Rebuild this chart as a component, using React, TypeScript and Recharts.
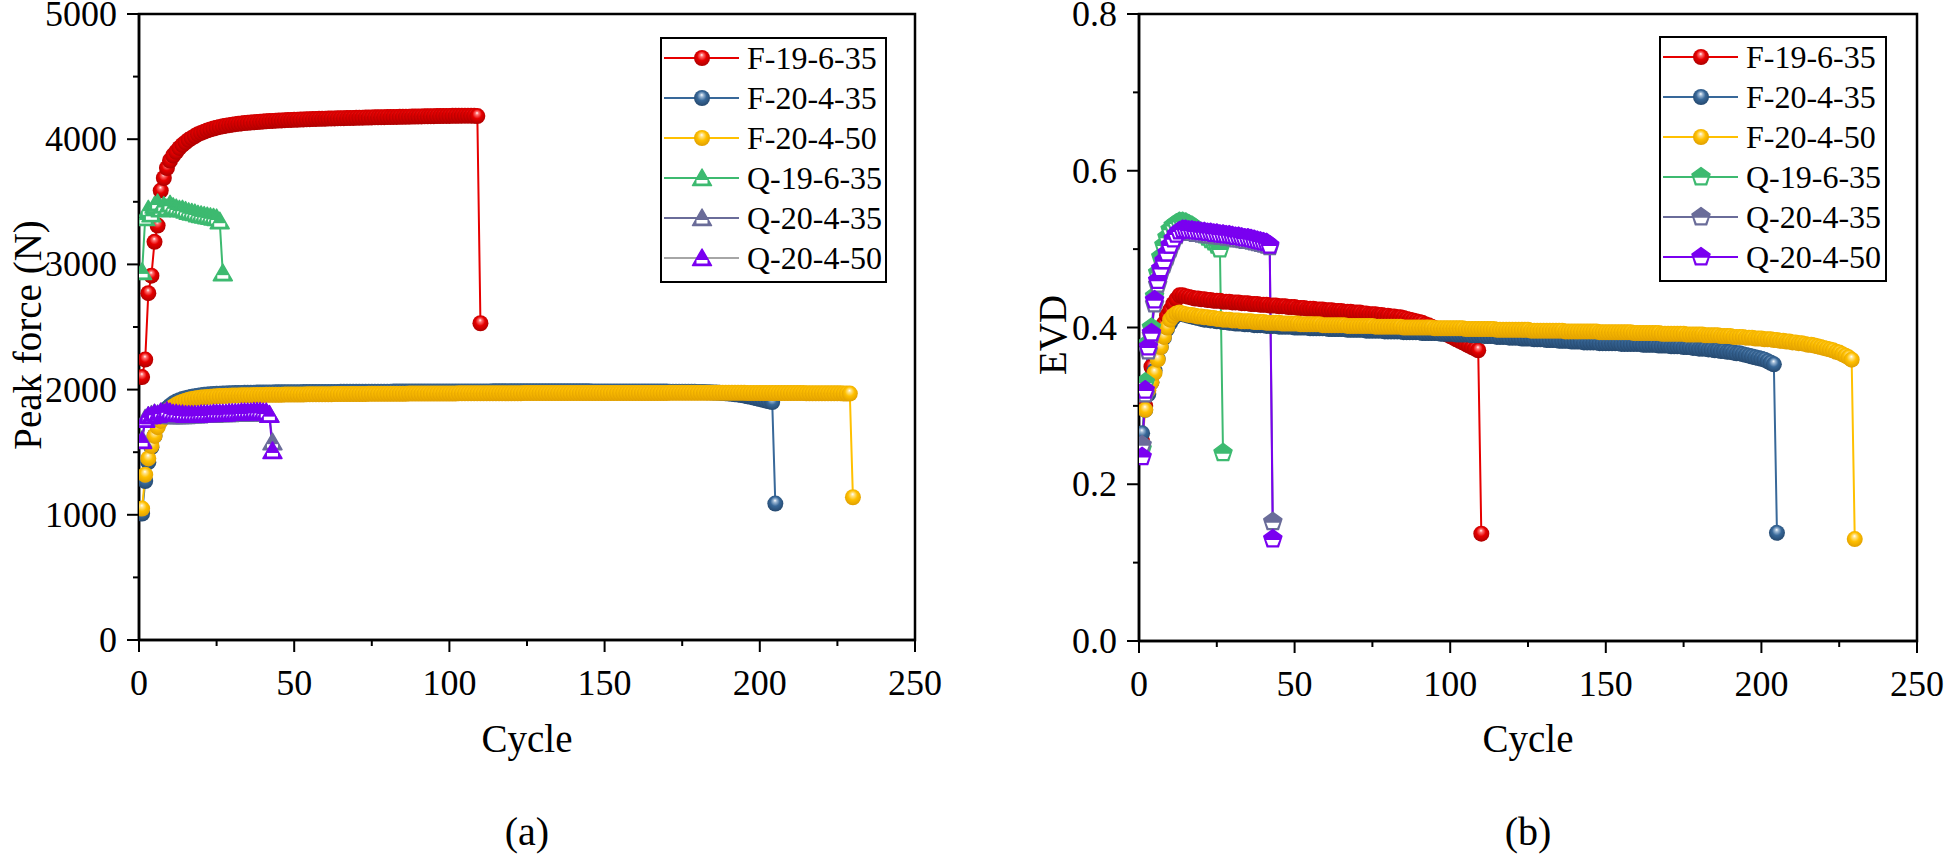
import React from 'react';
import { LineChart, Line, XAxis, YAxis, Legend, ReferenceArea } from 'recharts';

const cycleTicks = [0, 25, 50, 75, 100, 125, 150, 175, 200, 225, 250];
const forceTicks = [0, 500, 1000, 1500, 2000, 2500, 3000, 3500, 4000, 4500, 5000];
const evdTicks = [0, 0.1, 0.2, 0.3, 0.4, 0.5, 0.6, 0.7, 0.8];
const seriesNames = ['F-19-6-35', 'F-20-4-35', 'F-20-4-50', 'Q-19-6-35', 'Q-20-4-35', 'Q-20-4-50'];

// Peak force (N), one value per cycle starting at cycle 1
const forceF19635 = [
  2100, 2240, 2770, 2910, 3180, 3310, 3590, 3690, 3770, 3830,
  3870, 3900, 3930, 3955, 3975, 3995, 4010, 4025, 4040, 4050,
  4060, 4070, 4078, 4085, 4092, 4098, 4103, 4108, 4112, 4116,
  4120, 4123, 4126, 4129, 4131, 4133, 4135, 4137, 4139, 4141,
  4143, 4145, 4146, 4148, 4149, 4150, 4152, 4153, 4154, 4155,
  4156, 4157, 4158, 4159, 4160, 4161, 4162, 4163, 4163, 4164,
  4165, 4166, 4166, 4167, 4168, 4168, 4169, 4170, 4170, 4171,
  4172, 4172, 4173, 4173, 4174, 4175, 4175, 4176, 4176, 4177,
  4177, 4178, 4178, 4179, 4179, 4180, 4180, 4181, 4181, 4182,
  4182, 4183, 4183, 4184, 4184, 4185, 4185, 4186, 4186, 4186,
  4187, 4187, 4187, 4188, 4188, 4188, 4188, 4187, 4185, 2530,
];
const forceF20435 = [
  1010, 1270, 1420, 1540, 1630, 1710, 1770, 1815, 1850, 1872,
  1890, 1904, 1915, 1924, 1931, 1937, 1942, 1947, 1951, 1955,
  1958, 1960, 1962, 1964, 1966, 1967, 1968, 1969, 1970, 1971,
  1972, 1973, 1973, 1974, 1974, 1975, 1975, 1976, 1976, 1976,
  1977, 1977, 1977, 1978, 1978, 1978, 1978, 1979, 1979, 1979,
  1979, 1979, 1980, 1980, 1980, 1980, 1980, 1981, 1981, 1981,
  1981, 1981, 1981, 1981, 1982, 1982, 1982, 1982, 1982, 1982,
  1982, 1983, 1983, 1983, 1983, 1983, 1983, 1983, 1983, 1983,
  1983, 1984, 1984, 1984, 1984, 1984, 1984, 1984, 1984, 1984,
  1984, 1984, 1985, 1985, 1985, 1985, 1985, 1985, 1985, 1985,
  1985, 1985, 1985, 1985, 1985, 1985, 1985, 1985, 1985, 1985,
  1985, 1985, 1985, 1986, 1986, 1986, 1986, 1986, 1986, 1986,
  1986, 1986, 1986, 1986, 1986, 1986, 1986, 1986, 1986, 1986,
  1986, 1986, 1986, 1986, 1986, 1986, 1986, 1986, 1986, 1986,
  1986, 1986, 1986, 1986, 1986, 1985, 1985, 1985, 1985, 1985,
  1985, 1985, 1985, 1985, 1985, 1985, 1985, 1985, 1985, 1985,
  1985, 1985, 1984, 1984, 1984, 1984, 1984, 1984, 1984, 1984,
  1983, 1983, 1983, 1983, 1983, 1982, 1982, 1982, 1982, 1981,
  1981, 1980, 1979, 1978, 1977, 1976, 1975, 1973, 1971, 1969,
  1966, 1963, 1960, 1956, 1952, 1947, 1942, 1937, 1931, 1925,
  1919, 1913, 1907, 1900, 1090,
];
const forceF20450 = [
  1050, 1320, 1450, 1550, 1630, 1700, 1750, 1790, 1820, 1845,
  1865, 1880, 1893, 1903, 1911, 1918, 1924, 1929, 1933, 1936,
  1939, 1941, 1943, 1945, 1947, 1948, 1949, 1950, 1951, 1952,
  1953, 1953, 1954, 1954, 1955, 1955, 1956, 1956, 1957, 1957,
  1958, 1958, 1958, 1959, 1959, 1959, 1960, 1960, 1960, 1961,
  1961, 1961, 1961, 1962, 1962, 1962, 1962, 1963, 1963, 1963,
  1963, 1963, 1964, 1964, 1964, 1964, 1964, 1965, 1965, 1965,
  1965, 1965, 1965, 1966, 1966, 1966, 1966, 1966, 1966, 1967,
  1967, 1967, 1967, 1967, 1967, 1967, 1968, 1968, 1968, 1968,
  1968, 1968, 1968, 1968, 1969, 1969, 1969, 1969, 1969, 1969,
  1969, 1969, 1970, 1970, 1970, 1970, 1970, 1970, 1970, 1970,
  1970, 1970, 1971, 1971, 1971, 1971, 1971, 1971, 1971, 1971,
  1971, 1971, 1971, 1972, 1972, 1972, 1972, 1972, 1972, 1972,
  1972, 1972, 1972, 1972, 1972, 1972, 1972, 1972, 1972, 1972,
  1972, 1972, 1973, 1973, 1973, 1973, 1973, 1973, 1973, 1973,
  1973, 1973, 1973, 1973, 1973, 1973, 1973, 1973, 1973, 1973,
  1973, 1973, 1973, 1973, 1973, 1973, 1973, 1973, 1973, 1973,
  1974, 1974, 1974, 1974, 1974, 1974, 1974, 1974, 1974, 1974,
  1974, 1974, 1974, 1974, 1974, 1974, 1974, 1974, 1974, 1974,
  1974, 1974, 1974, 1974, 1974, 1973, 1973, 1973, 1973, 1973,
  1973, 1973, 1973, 1973, 1973, 1972, 1972, 1972, 1972, 1972,
  1972, 1972, 1972, 1972, 1971, 1971, 1971, 1971, 1971, 1971,
  1971, 1970, 1970, 1970, 1970, 1970, 1969, 1969, 1968, 1140,
];
const forceQ19635 = [
  2940, 3370, 3440, 3400, 3470, 3490, 3440, 3470, 3450, 3480,
  3460, 3450, 3440, 3440, 3430, 3420, 3415, 3410, 3400, 3395,
  3390, 3385, 3380, 3375, 3370, 3345, 2930,
];
const forceQ20435 = [
  1600, 1770, 1790, 1800, 1810, 1805, 1800, 1795, 1795, 1790,
  1790, 1790, 1790, 1790, 1790, 1795, 1795, 1795, 1795, 1800,
  1800, 1800, 1800, 1800, 1805, 1805, 1805, 1805, 1805, 1810,
  1810, 1810, 1810, 1810, 1810, 1810, 1815, 1815, 1815, 1815,
  1810, 1800, 1580,
];
const forceQ20450 = [
  1590, 1760, 1790, 1790, 1810, 1800, 1820, 1815, 1830, 1820,
  1810, 1810, 1805, 1805, 1800, 1800, 1800, 1800, 1800, 1805,
  1805, 1805, 1805, 1810, 1810, 1810, 1810, 1810, 1815, 1815,
  1815, 1815, 1820, 1820, 1820, 1820, 1825, 1825, 1825, 1820,
  1820, 1800, 1510,
];

// EVD, one value per cycle starting at cycle 1
const evdF19635 = [
  0.255, 0.3, 0.33, 0.35, 0.365, 0.38, 0.395, 0.405, 0.415, 0.422,
  0.43, 0.436, 0.441, 0.441, 0.44, 0.439, 0.438, 0.437, 0.437, 0.436,
  0.436, 0.435, 0.435, 0.434, 0.434, 0.434, 0.433, 0.433, 0.433, 0.432,
  0.432, 0.432, 0.431, 0.431, 0.431, 0.43, 0.43, 0.43, 0.429, 0.429,
  0.429, 0.428, 0.428, 0.428, 0.427, 0.427, 0.427, 0.426, 0.426, 0.426,
  0.425, 0.425, 0.425, 0.424, 0.424, 0.424, 0.423, 0.423, 0.423, 0.422,
  0.422, 0.422, 0.421, 0.421, 0.421, 0.42, 0.42, 0.42, 0.419, 0.419,
  0.419, 0.418, 0.418, 0.417, 0.417, 0.417, 0.416, 0.416, 0.415, 0.415,
  0.414, 0.414, 0.413, 0.413, 0.412, 0.411, 0.41, 0.409, 0.408, 0.407,
  0.406, 0.404, 0.403, 0.401, 0.399, 0.397, 0.395, 0.393, 0.391, 0.389,
  0.387, 0.385, 0.383, 0.381, 0.379, 0.377, 0.375, 0.373, 0.371, 0.137,
];
const evdF20435 = [
  0.265, 0.295, 0.315, 0.33, 0.345, 0.36, 0.375, 0.387, 0.398, 0.406,
  0.412, 0.416, 0.418, 0.417, 0.416, 0.415, 0.414, 0.413, 0.412, 0.411,
  0.41, 0.41, 0.409, 0.409, 0.408, 0.408, 0.407, 0.407, 0.406, 0.406,
  0.405, 0.405, 0.405, 0.404, 0.404, 0.404, 0.403, 0.403, 0.403, 0.403,
  0.402, 0.402, 0.402, 0.402, 0.401, 0.401, 0.401, 0.401, 0.401, 0.4,
  0.4, 0.4, 0.4, 0.4, 0.399, 0.399, 0.399, 0.399, 0.399, 0.399,
  0.398, 0.398, 0.398, 0.398, 0.398, 0.398, 0.397, 0.397, 0.397, 0.397,
  0.397, 0.397, 0.396, 0.396, 0.396, 0.396, 0.396, 0.396, 0.395, 0.395,
  0.395, 0.395, 0.395, 0.395, 0.394, 0.394, 0.394, 0.394, 0.394, 0.394,
  0.393, 0.393, 0.393, 0.393, 0.393, 0.393, 0.392, 0.392, 0.392, 0.392,
  0.392, 0.391, 0.391, 0.391, 0.391, 0.391, 0.39, 0.39, 0.39, 0.39,
  0.389, 0.389, 0.389, 0.389, 0.388, 0.388, 0.388, 0.388, 0.387, 0.387,
  0.387, 0.387, 0.386, 0.386, 0.386, 0.386, 0.385, 0.385, 0.385, 0.385,
  0.384, 0.384, 0.384, 0.384, 0.383, 0.383, 0.383, 0.383, 0.382, 0.382,
  0.382, 0.382, 0.381, 0.381, 0.381, 0.381, 0.381, 0.38, 0.38, 0.38,
  0.38, 0.38, 0.38, 0.38, 0.379, 0.379, 0.379, 0.379, 0.379, 0.379,
  0.379, 0.378, 0.378, 0.378, 0.378, 0.378, 0.377, 0.377, 0.377, 0.377,
  0.376, 0.376, 0.376, 0.376, 0.375, 0.375, 0.375, 0.374, 0.374, 0.373,
  0.373, 0.373, 0.372, 0.372, 0.371, 0.371, 0.37, 0.37, 0.369, 0.369,
  0.368, 0.367, 0.367, 0.366, 0.365, 0.364, 0.363, 0.362, 0.361, 0.36,
  0.359, 0.357, 0.355, 0.353, 0.138,
];
const evdF20450 = [
  0.25, 0.295, 0.32, 0.33, 0.342, 0.359, 0.375, 0.388, 0.4, 0.41,
  0.415, 0.418, 0.419, 0.418, 0.417, 0.416, 0.416, 0.415, 0.414, 0.414,
  0.413, 0.413, 0.412, 0.412, 0.411, 0.411, 0.41, 0.41, 0.41, 0.409,
  0.409, 0.409, 0.408, 0.408, 0.408, 0.408, 0.407, 0.407, 0.407, 0.407,
  0.406, 0.406, 0.406, 0.406, 0.406, 0.405, 0.405, 0.405, 0.405, 0.405,
  0.405, 0.404, 0.404, 0.404, 0.404, 0.404, 0.404, 0.404, 0.403, 0.403,
  0.403, 0.403, 0.403, 0.403, 0.403, 0.403, 0.402, 0.402, 0.402, 0.402,
  0.402, 0.402, 0.402, 0.402, 0.402, 0.401, 0.401, 0.401, 0.401, 0.401,
  0.401, 0.401, 0.401, 0.401, 0.4, 0.4, 0.4, 0.4, 0.4, 0.4,
  0.4, 0.4, 0.4, 0.4, 0.399, 0.399, 0.399, 0.399, 0.399, 0.399,
  0.399, 0.399, 0.399, 0.399, 0.398, 0.398, 0.398, 0.398, 0.398, 0.398,
  0.398, 0.398, 0.398, 0.398, 0.397, 0.397, 0.397, 0.397, 0.397, 0.397,
  0.397, 0.397, 0.397, 0.397, 0.397, 0.396, 0.396, 0.396, 0.396, 0.396,
  0.396, 0.396, 0.396, 0.396, 0.396, 0.396, 0.395, 0.395, 0.395, 0.395,
  0.395, 0.395, 0.395, 0.395, 0.395, 0.395, 0.395, 0.394, 0.394, 0.394,
  0.394, 0.394, 0.394, 0.394, 0.394, 0.394, 0.394, 0.394, 0.393, 0.393,
  0.393, 0.393, 0.393, 0.393, 0.393, 0.393, 0.393, 0.392, 0.392, 0.392,
  0.392, 0.392, 0.392, 0.392, 0.392, 0.391, 0.391, 0.391, 0.391, 0.391,
  0.391, 0.39, 0.39, 0.39, 0.39, 0.39, 0.389, 0.389, 0.389, 0.389,
  0.388, 0.388, 0.388, 0.388, 0.387, 0.387, 0.387, 0.386, 0.386, 0.386,
  0.385, 0.385, 0.385, 0.384, 0.384, 0.383, 0.383, 0.382, 0.382, 0.381,
  0.381, 0.38, 0.38, 0.379, 0.378, 0.378, 0.377, 0.376, 0.375, 0.374,
  0.373, 0.372, 0.371, 0.369, 0.368, 0.366, 0.364, 0.362, 0.359, 0.13,
];
const evdQ19635 = [
  0.245, 0.33, 0.38, 0.4, 0.44, 0.47, 0.49, 0.505, 0.515, 0.525,
  0.53, 0.533, 0.535, 0.535, 0.534, 0.532, 0.53, 0.527, 0.524, 0.521,
  0.518, 0.515, 0.512, 0.509, 0.505, 0.5, 0.24,
];
const evdQ20435 = [
  0.25, 0.315, 0.37, 0.39, 0.43, 0.455, 0.47, 0.48, 0.49, 0.5,
  0.51, 0.517, 0.521, 0.522, 0.522, 0.521, 0.521, 0.52, 0.52, 0.519,
  0.519, 0.518, 0.518, 0.517, 0.517, 0.516, 0.516, 0.515, 0.515, 0.514,
  0.513, 0.513, 0.512, 0.511, 0.511, 0.51, 0.509, 0.508, 0.507, 0.506,
  0.505, 0.503, 0.152,
];
const evdQ20450 = [
  0.235, 0.32, 0.375, 0.393, 0.435, 0.46, 0.475, 0.485, 0.495, 0.505,
  0.513, 0.519, 0.523, 0.525, 0.525, 0.524, 0.524, 0.523, 0.523, 0.522,
  0.522, 0.521, 0.521, 0.52, 0.52, 0.519, 0.519, 0.518, 0.518, 0.517,
  0.516, 0.516, 0.515, 0.514, 0.514, 0.513, 0.512, 0.511, 0.51, 0.509,
  0.508, 0.505, 0.13,
];

const FONT = '"Liberation Serif", "Times New Roman", serif';
const colors = ['#e60000', '#386899', '#ffc000', '#3dba70', '#6a6c99', '#7a00f0'];
const sphereShades = [
  { light: '#ff7070', dark: '#a80000' },
  { light: '#9fbad6', dark: '#23456a' },
  { light: '#ffe38a', dark: '#dd9c00' },
];

const toPoints = (vals: number[]) => vals.map((v, i) => ({ cycle: i + 1, value: v }));

const Marker = ({ kind, x, y, color, gid }: any) => {
  if (kind === 'sphere') return <circle cx={x} cy={y} r={8} fill={`url(#${gid})`} />;
  if (kind === 'triangle') {
    return (
      <g transform={`translate(${x},${y})`}>
        <polygon points="0,-9 9.5,7.5 -9.5,7.5" fill={color} stroke={color} strokeWidth={1.5} strokeLinejoin="round" />
        <rect x={-5.5} y={2} width={11} height={3.5} fill="#fff" />
      </g>
    );
  }
  return (
    <g transform={`translate(${x},${y})`}>
      <polygon points="0,-9.5 9,-2.9 5.6,7.7 -5.6,7.7 -9,-2.9" fill={color} stroke={color} strokeWidth={1.5} strokeLinejoin="round" />
      <polygon points="-6.6,0.8 6.6,0.8 4.4,6.2 -4.4,6.2" fill="#fff" />
    </g>
  );
};

const renderXTick = (props: any) => {
  const { x, y, payload } = props;
  const major = payload.value % 50 === 0;
  return (
    <g>
      <line x1={x} x2={x} y1={y} y2={y + (major ? 12 : 6)} stroke="#000" strokeWidth={2} />
      {major && (
        <text x={x} y={y + 55} textAnchor="middle" fontSize={36} fontFamily={FONT} fill="#000">
          {payload.value}
        </text>
      )}
    </g>
  );
};

const makeYTick = (isMajor: (v: number) => boolean, fmt: (v: number) => string) => (props: any) => {
  const { x, y, payload } = props;
  const major = isMajor(payload.value);
  return (
    <g>
      <line x1={x - (major ? 12 : 6)} x2={x} y1={y} y2={y} stroke="#000" strokeWidth={2} />
      {major && (
        <text x={x - 22} y={y + 12} textAnchor="end" fontSize={36} fontFamily={FONT} fill="#000">
          {fmt(payload.value)}
        </text>
      )}
    </g>
  );
};

const LegendBox = ({ kinds, lineColors, gidPrefix, width }: any) => (
  <svg width={width} height={246} style={{ display: 'block' }}>
    <rect x={1} y={1} width={width - 2} height={244} fill="#fff" stroke="#000" strokeWidth={2} />
    {seriesNames.map((name, i) => {
      const cy = 21 + i * 40;
      return (
        <g key={name}>
          <line x1={4} x2={79} y1={cy} y2={cy} stroke={lineColors[i]} strokeWidth={2} />
          <Marker kind={kinds[i]} x={42} y={cy} color={colors[i]} gid={`${gidPrefix}-sph-${i}`} />
          <text x={87} y={cy + 11} fontSize={32} fontFamily={FONT} fill="#000">{name}</text>
        </g>
      );
    })}
  </svg>
);

const Panel = (p: any) => {
  const plotLeft = p.yWidth;
  const plotRight = p.width - p.marginRight;
  const center = (plotLeft + plotRight) / 2;
  const kinds = ['sphere', 'sphere', 'sphere', p.qKind, p.qKind, p.qKind];
  return (
    <LineChart width={p.width} height={857} margin={{ top: 14, right: p.marginRight, bottom: 0, left: 0 }}>
      <defs>
        {sphereShades.map((s, i) => (
          <radialGradient key={i} id={`${p.prefix}-sph-${i}`} cx="50%" cy="45%" r="58%" fx="48%" fy="30%">
            <stop offset="0%" stopColor="#ffffff" />
            <stop offset="18%" stopColor={s.light} />
            <stop offset="50%" stopColor={colors[i]} />
            <stop offset="100%" stopColor={s.dark} />
          </radialGradient>
        ))}
      </defs>
      <ReferenceArea x1={0} x2={250} y1={p.yDomain[0]} y2={p.yDomain[1]} fill="none" stroke="#000" strokeWidth={2.5} ifOverflow="visible" />
      <XAxis
        type="number"
        dataKey="cycle"
        domain={[0, 250]}
        ticks={cycleTicks}
        interval={0}
        allowDataOverflow
        tickSize={0}
        tickMargin={0}
        tickLine={false}
        tick={renderXTick}
        axisLine={{ stroke: '#000', strokeWidth: 2.5 }}
        height={857 - 14 - p.plotHeight}
        label={{
          content: () => (
            <g>
              <text x={center} y={752} textAnchor="middle" fontSize={39} fontFamily={FONT} fill="#000">Cycle</text>
              <text x={center} y={845} textAnchor="middle" fontSize={40} fontFamily={FONT} fill="#000">{p.caption}</text>
            </g>
          ),
        }}
      />
      <YAxis
        type="number"
        domain={p.yDomain}
        ticks={p.yTicks}
        interval={0}
        allowDataOverflow
        width={p.yWidth}
        tickSize={0}
        tickMargin={0}
        tickLine={false}
        tick={makeYTick(p.isMajor, p.fmt)}
        axisLine={{ stroke: '#000', strokeWidth: 2.5 }}
        label={{
          content: () => (
            <text
              x={p.titleX}
              y={335}
              transform={`rotate(-90 ${p.titleX} 335)`}
              textAnchor="middle"
              dominantBaseline="central"
              fontSize={39}
              fontFamily={FONT}
              fill="#000"
            >
              {p.yTitle}
            </text>
          ),
        }}
      />
      <Legend
        layout="vertical"
        align="center"
        verticalAlign="middle"
        wrapperStyle={{ left: p.legendLeft, top: p.legendTop, width: p.legendWidth, height: 246 }}
        content={() => <LegendBox kinds={kinds} lineColors={p.legendLines} gidPrefix={p.prefix} width={p.legendWidth} />}
      />
      {p.series.map((vals: number[], i: number) => (
        <Line
          key={seriesNames[i]}
          data={toPoints(vals)}
          dataKey="value"
          name={seriesNames[i]}
          type="linear"
          stroke={colors[i]}
          strokeWidth={2}
          activeDot={false}
          isAnimationActive={false}
          dot={(d: any) => (
            <Marker key={`${i}-${d.index}`} kind={kinds[i]} x={d.cx} y={d.cy} color={colors[i]} gid={`${p.prefix}-sph-${i}`} />
          )}
        />
      ))}
    </LineChart>
  );
};

export default function App() {
  return (
    <div style={{ position: 'absolute', left: 0, top: 0, width: 1945, height: 857, background: '#fff' }}>
      <div style={{ position: 'absolute', left: 0, top: 0 }}>
        <Panel
          prefix="pf"
          width={960}
          yWidth={139}
          marginRight={45}
          plotHeight={626}
          yDomain={[0, 5000]}
          yTicks={forceTicks}
          isMajor={(v: number) => v % 1000 === 0}
          fmt={(v: number) => String(v)}
          yTitle="Peak force (N)"
          titleX={27}
          caption="(a)"
          qKind="triangle"
          legendLeft={660}
          legendTop={37}
          legendWidth={227}
          legendLines={['#e60000', '#386899', '#ffc000', '#3dba70', '#6a6c99', '#a6a6a6']}
          series={[forceF19635, forceF20435, forceF20450, forceQ19635, forceQ20435, forceQ20450]}
        />
      </div>
      <div style={{ position: 'absolute', left: 960, top: 0 }}>
        <Panel
          prefix="evd"
          width={985}
          yWidth={179}
          marginRight={28}
          plotHeight={627}
          yDomain={[0, 0.8]}
          yTicks={evdTicks}
          isMajor={(v: number) => Math.round(v * 10) % 2 === 0}
          fmt={(v: number) => v.toFixed(1)}
          yTitle="EVD"
          titleX={92}
          caption="(b)"
          qKind="pentagon"
          legendLeft={699}
          legendTop={36}
          legendWidth={228}
          legendLines={colors}
          series={[evdF19635, evdF20435, evdF20450, evdQ19635, evdQ20435, evdQ20450]}
        />
      </div>
    </div>
  );
}
